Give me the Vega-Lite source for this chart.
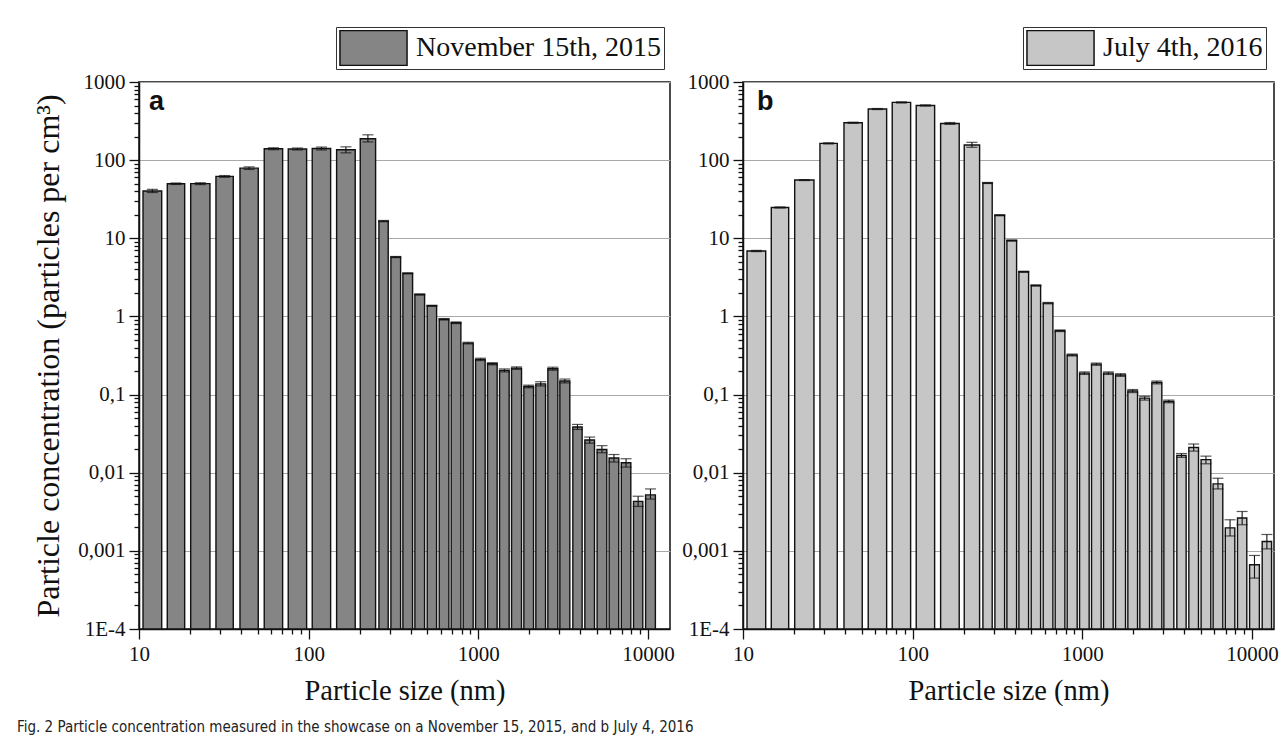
{
  "$schema": "https://vega.github.io/schema/vega-lite/v6.json",
  "padding": {"left": 16, "top": 25, "right": 8, "bottom": 10},
  "background": "white",
  "datasets": {
    "nov": [
      {"lo": 10.56, "hi": 13.61, "mid": 11.99, "v": 40.3, "elo": 38.5, "ehi": 42.3},
      {"lo": 14.68, "hi": 18.59, "mid": 16.52, "v": 49.9, "elo": 48.8, "ehi": 51.0},
      {"lo": 20.17, "hi": 26.2, "mid": 22.99, "v": 50.0, "elo": 48.6, "ehi": 51.4},
      {"lo": 28.42, "hi": 35.95, "mid": 31.96, "v": 61.9, "elo": 60.3, "ehi": 63.5},
      {"lo": 39.38, "hi": 50.47, "mid": 44.58, "v": 79.0, "elo": 76.0, "ehi": 82.0},
      {"lo": 54.74, "hi": 70.27, "mid": 62.02, "v": 140, "elo": 136, "ehi": 144},
      {"lo": 75.82, "hi": 97.32, "mid": 85.9, "v": 139, "elo": 135, "ehi": 143},
      {"lo": 105.0, "hi": 134.8, "mid": 119.0, "v": 141, "elo": 135, "ehi": 147},
      {"lo": 146.2, "hi": 188.2, "mid": 165.9, "v": 136, "elo": 124, "ehi": 148},
      {"lo": 201.5, "hi": 248.2, "mid": 223.6, "v": 188, "elo": 171, "ehi": 211},
      {"lo": 259.6, "hi": 294.5, "mid": 276.5, "v": 16.6, "elo": 16.3, "ehi": 16.9},
      {"lo": 305.5, "hi": 348.5, "mid": 326.3, "v": 5.75, "elo": 5.65, "ehi": 5.85},
      {"lo": 359.5, "hi": 410.1, "mid": 384.0, "v": 3.56, "elo": 3.5, "ehi": 3.62},
      {"lo": 423.1, "hi": 482.6, "mid": 451.9, "v": 1.91, "elo": 1.88, "ehi": 1.94},
      {"lo": 500.0, "hi": 568.1, "mid": 533.0, "v": 1.37, "elo": 1.35, "ehi": 1.39},
      {"lo": 588.5, "hi": 671.2, "mid": 628.5, "v": 0.92, "elo": 0.9, "ehi": 0.94},
      {"lo": 692.4, "hi": 789.8, "mid": 739.5, "v": 0.83, "elo": 0.81, "ehi": 0.85},
      {"lo": 814.7, "hi": 933.3, "mid": 872.0, "v": 0.456, "elo": 0.445, "ehi": 0.467},
      {"lo": 964, "hi": 1098, "mid": 1029, "v": 0.282, "elo": 0.272, "ehi": 0.292},
      {"lo": 1134, "hi": 1292, "mid": 1210, "v": 0.248, "elo": 0.24, "ehi": 0.256},
      {"lo": 1335, "hi": 1521, "mid": 1425, "v": 0.204, "elo": 0.195, "ehi": 0.213},
      {"lo": 1571, "hi": 1799, "mid": 1681, "v": 0.218, "elo": 0.21, "ehi": 0.226},
      {"lo": 1857, "hi": 2118, "mid": 1983, "v": 0.127, "elo": 0.122, "ehi": 0.132},
      {"lo": 2185, "hi": 2493, "mid": 2334, "v": 0.137, "elo": 0.129, "ehi": 0.146},
      {"lo": 2572, "hi": 2945, "mid": 2752, "v": 0.214, "elo": 0.205, "ehi": 0.224},
      {"lo": 3027, "hi": 3466, "mid": 3239, "v": 0.149, "elo": 0.141, "ehi": 0.158},
      {"lo": 3610, "hi": 4096, "mid": 3845, "v": 0.0384, "elo": 0.0358, "ehi": 0.0415},
      {"lo": 4249, "hi": 4844, "mid": 4537, "v": 0.0262, "elo": 0.0239, "ehi": 0.0286},
      {"lo": 5018, "hi": 5725, "mid": 5360, "v": 0.0198, "elo": 0.018, "ehi": 0.0222},
      {"lo": 5907, "hi": 6736, "mid": 6308, "v": 0.0154, "elo": 0.0137, "ehi": 0.0171},
      {"lo": 6969, "hi": 7930, "mid": 7434, "v": 0.0134, "elo": 0.0118, "ehi": 0.0151},
      {"lo": 8226, "hi": 9331, "mid": 8761, "v": 0.0043, "elo": 0.0037, "ehi": 0.005},
      {"lo": 9692, "hi": 11070, "mid": 10358, "v": 0.0052, "elo": 0.0046, "ehi": 0.0062}
    ],
    "jul": [
      {"lo": 10.56, "hi": 13.61, "mid": 11.99, "v": 6.87, "elo": 6.75, "ehi": 7.0},
      {"lo": 14.68, "hi": 18.59, "mid": 16.52, "v": 24.8, "elo": 24.4, "ehi": 25.2},
      {"lo": 20.17, "hi": 26.2, "mid": 22.99, "v": 55.6, "elo": 54.8, "ehi": 56.4},
      {"lo": 28.42, "hi": 35.95, "mid": 31.96, "v": 164, "elo": 161, "ehi": 167},
      {"lo": 39.38, "hi": 50.47, "mid": 44.58, "v": 301, "elo": 296, "ehi": 306},
      {"lo": 54.74, "hi": 70.27, "mid": 62.02, "v": 451, "elo": 444, "ehi": 458},
      {"lo": 75.82, "hi": 97.32, "mid": 85.9, "v": 548, "elo": 538, "ehi": 558},
      {"lo": 105.0, "hi": 134.8, "mid": 119.0, "v": 501, "elo": 492, "ehi": 510},
      {"lo": 146.2, "hi": 188.2, "mid": 165.9, "v": 295, "elo": 287, "ehi": 303},
      {"lo": 201.5, "hi": 248.2, "mid": 223.6, "v": 156, "elo": 146, "ehi": 169},
      {"lo": 259.6, "hi": 294.5, "mid": 276.5, "v": 51.0, "elo": 50.2, "ehi": 51.8},
      {"lo": 305.5, "hi": 348.5, "mid": 326.3, "v": 19.7, "elo": 19.4, "ehi": 20.0},
      {"lo": 359.5, "hi": 410.1, "mid": 384.0, "v": 9.35, "elo": 9.2, "ehi": 9.5},
      {"lo": 423.1, "hi": 482.6, "mid": 451.9, "v": 3.73, "elo": 3.67, "ehi": 3.79},
      {"lo": 500.0, "hi": 568.1, "mid": 533.0, "v": 2.49, "elo": 2.45, "ehi": 2.53},
      {"lo": 588.5, "hi": 671.2, "mid": 628.5, "v": 1.48, "elo": 1.45, "ehi": 1.51},
      {"lo": 692.4, "hi": 789.8, "mid": 739.5, "v": 0.656, "elo": 0.64, "ehi": 0.672},
      {"lo": 814.7, "hi": 933.3, "mid": 872.0, "v": 0.321, "elo": 0.312, "ehi": 0.33},
      {"lo": 964, "hi": 1098, "mid": 1029, "v": 0.188, "elo": 0.181, "ehi": 0.195},
      {"lo": 1134, "hi": 1292, "mid": 1210, "v": 0.245, "elo": 0.237, "ehi": 0.253},
      {"lo": 1335, "hi": 1521, "mid": 1425, "v": 0.188, "elo": 0.181, "ehi": 0.195},
      {"lo": 1571, "hi": 1799, "mid": 1681, "v": 0.178, "elo": 0.171, "ehi": 0.185},
      {"lo": 1857, "hi": 2118, "mid": 1983, "v": 0.111, "elo": 0.106, "ehi": 0.116},
      {"lo": 2185, "hi": 2493, "mid": 2334, "v": 0.09, "elo": 0.085, "ehi": 0.095},
      {"lo": 2572, "hi": 2945, "mid": 2752, "v": 0.143, "elo": 0.137, "ehi": 0.149},
      {"lo": 3027, "hi": 3466, "mid": 3239, "v": 0.0817, "elo": 0.0785, "ehi": 0.085},
      {"lo": 3610, "hi": 4096, "mid": 3845, "v": 0.0166, "elo": 0.0157, "ehi": 0.0176},
      {"lo": 4249, "hi": 4844, "mid": 4537, "v": 0.021, "elo": 0.0189, "ehi": 0.0233},
      {"lo": 5018, "hi": 5725, "mid": 5360, "v": 0.0147, "elo": 0.013, "ehi": 0.0163},
      {"lo": 5907, "hi": 6736, "mid": 6308, "v": 0.0072, "elo": 0.0062, "ehi": 0.0085},
      {"lo": 6969, "hi": 7930, "mid": 7434, "v": 0.00197, "elo": 0.00155, "ehi": 0.0025},
      {"lo": 8226, "hi": 9331, "mid": 8761, "v": 0.00263, "elo": 0.00216, "ehi": 0.00319},
      {"lo": 9692, "hi": 11070, "mid": 10358, "v": 0.000664, "elo": 0.000448, "ehi": 0.000873},
      {"lo": 11500, "hi": 13060, "mid": 12255, "v": 0.00132, "elo": 0.00106, "ehi": 0.00162}
    ]
  },
  "title": {
    "text": "Fig. 2  Particle concentration measured in the showcase on a November 15, 2015, and b July 4, 2016",
    "orient": "bottom",
    "anchor": "start",
    "font": "Liberation Sans Narrow, DejaVu Sans Condensed, sans-serif",
    "fontSize": 15,
    "fontWeight": "normal",
    "color": "#222",
    "offset": 15,
    "dx": -15
  },
  "config": {
    "view": {"stroke": "#111", "strokeWidth": 1.5},
    "axis": {
      "domainColor": "#111",
      "domainWidth": 1.5,
      "tickColor": "#111",
      "tickWidth": 1.3,
      "labelFont": "Liberation Serif",
      "labelFontSize": 21,
      "labelColor": "#111",
      "titleFont": "Liberation Serif",
      "titleFontSize": 28.5,
      "titleFontWeight": "normal",
      "titleColor": "#111",
      "labelFlush": false,
      "labelOverlap": false,
      "labelPadding": 4
    },
    "legend": {
      "labelLimit": 600
    }
  },
  "spacing": 6,
  "resolve": {"scale": {"color": "independent"}, "legend": {"color": "independent"}},
  "hconcat": [
    {
      "width": 531,
      "height": 547,
      "layer": [
        {
          "data": {"name": "nov"},
          "mark": {"type": "bar", "stroke": "#111", "strokeWidth": 1.4},
          "encoding": {
            "x": {
              "field": "lo", "type": "quantitative",
              "scale": {"type": "log", "domain": [10, 13500], "nice": false},
              "axis": {
                "title": "Particle size (nm)",
                "titlePadding": 12,
                "grid": false,
                "values": [10,20,30,40,50,60,70,80,90,100,200,300,400,500,600,700,800,900,1000,2000,3000,4000,5000,6000,7000,8000,9000,10000],
                "labelExpr": "indexof([10,100,1000,10000], datum.value) >= 0 ? toString(datum.value) : ''",
                "tickSize": {"condition": {"test": "indexof([10,100,1000,10000], datum.value) >= 0", "value": 10}, "value": 5}
              }
            },
            "x2": {"field": "hi"},
            "y": {
              "field": "v", "type": "quantitative",
              "scale": {"type": "log", "domain": [0.0001, 1000], "nice": false},
              "axis": {
                "title": "Particle concentration (particles per cm³)",
                "titleFontSize": 32,
                "titlePadding": 12,
                "grid": true,
                "gridColor": "#a8a8a8",
                "gridWidth": 1,
                "gridOpacity": {"condition": {"test": "indexof([0.0001,0.001,0.01,0.1,1,10,100,1000], datum.value) >= 0", "value": 1}, "value": 0},
                "values": [0.0001,0.0002,0.0003,0.0004,0.0005,0.0006,0.0007,0.0008,0.0009,0.001,0.002,0.003,0.004,0.005,0.006,0.007,0.008,0.009,0.01,0.02,0.03,0.04,0.05,0.06,0.07,0.08,0.09,0.1,0.2,0.3,0.4,0.5,0.6,0.7,0.8,0.9,1,2,3,4,5,6,7,8,9,10,20,30,40,50,60,70,80,90,100,200,300,400,500,600,700,800,900,1000],
                "labelExpr": "datum.value == 0.0001 ? '1E-4' : (indexof([0.001,0.01,0.1,1,10,100,1000], datum.value) >= 0 ? replace(toString(datum.value), '.', ',') : '')",
                "tickSize": {"condition": {"test": "indexof([0.0001,0.001,0.01,0.1,1,10,100,1000], datum.value) >= 0", "value": 10}, "value": 5}
              }
            },
            "y2": {"datum": 0.0001},
            "color": {
              "datum": "November 15th, 2015",
              "scale": {"range": ["#858585"]},
              "legend": {
                "orient": "none", "legendX": 197, "legendY": -55,
                "title": null,
                "strokeColor": "#333", "fillColor": "white", "padding": 3,
                "clipHeight": 36,
                "symbolType": "M-1,-0.52H1V0.52H-1Z", "symbolSize": 4500,
                "symbolStrokeColor": "#111", "symbolStrokeWidth": 1.5,
                "labelFont": "Liberation Serif", "labelFontSize": 28, "labelColor": "#111",
                "labelOffset": 8, "labelLimit": 600
              }
            }
          }
        },
        {
          "data": {"name": "nov"},
          "mark": {"type": "rule", "color": "#111", "strokeWidth": 1.1},
          "encoding": {
            "x": {"field": "mid", "type": "quantitative"},
            "y": {"field": "elo", "type": "quantitative"},
            "y2": {"field": "ehi"}
          }
        },
        {
          "data": {"name": "nov"},
          "mark": {"type": "tick", "orient": "horizontal", "size": 11, "thickness": 1.2, "color": "#111"},
          "encoding": {
            "x": {"field": "mid", "type": "quantitative"},
            "y": {"field": "elo", "type": "quantitative"}
          }
        },
        {
          "data": {"name": "nov"},
          "mark": {"type": "tick", "orient": "horizontal", "size": 11, "thickness": 1.2, "color": "#111"},
          "encoding": {
            "x": {"field": "mid", "type": "quantitative"},
            "y": {"field": "ehi", "type": "quantitative"}
          }
        },
        {
          "data": {"values": [{}]},
          "mark": {"type": "text", "text": "a", "font": "Liberation Sans", "fontWeight": "bold", "fontSize": 27, "align": "left", "baseline": "middle", "color": "#111"},
          "encoding": {
            "x": {"datum": 11.45, "type": "quantitative"},
            "y": {"datum": 560, "type": "quantitative"}
          }
        }
      ]
    },
    {
      "width": 531,
      "height": 547,
      "layer": [
        {
          "data": {"name": "jul"},
          "mark": {"type": "bar", "stroke": "#111", "strokeWidth": 1.4},
          "encoding": {
            "x": {
              "field": "lo", "type": "quantitative",
              "scale": {"type": "log", "domain": [10, 13500], "nice": false},
              "axis": {
                "title": "Particle size (nm)",
                "titlePadding": 12,
                "grid": false,
                "values": [10,20,30,40,50,60,70,80,90,100,200,300,400,500,600,700,800,900,1000,2000,3000,4000,5000,6000,7000,8000,9000,10000],
                "labelExpr": "indexof([10,100,1000,10000], datum.value) >= 0 ? toString(datum.value) : ''",
                "tickSize": {"condition": {"test": "indexof([10,100,1000,10000], datum.value) >= 0", "value": 10}, "value": 5}
              }
            },
            "x2": {"field": "hi"},
            "y": {
              "field": "v", "type": "quantitative",
              "scale": {"type": "log", "domain": [0.0001, 1000], "nice": false},
              "axis": {
                "title": null,
                "grid": true,
                "gridColor": "#a8a8a8",
                "gridWidth": 1,
                "gridOpacity": {"condition": {"test": "indexof([0.0001,0.001,0.01,0.1,1,10,100,1000], datum.value) >= 0", "value": 1}, "value": 0},
                "values": [0.0001,0.0002,0.0003,0.0004,0.0005,0.0006,0.0007,0.0008,0.0009,0.001,0.002,0.003,0.004,0.005,0.006,0.007,0.008,0.009,0.01,0.02,0.03,0.04,0.05,0.06,0.07,0.08,0.09,0.1,0.2,0.3,0.4,0.5,0.6,0.7,0.8,0.9,1,2,3,4,5,6,7,8,9,10,20,30,40,50,60,70,80,90,100,200,300,400,500,600,700,800,900,1000],
                "labelExpr": "datum.value == 0.0001 ? '1E-4' : (indexof([0.001,0.01,0.1,1,10,100,1000], datum.value) >= 0 ? replace(toString(datum.value), '.', ',') : '')",
                "tickSize": {"condition": {"test": "indexof([0.0001,0.001,0.01,0.1,1,10,100,1000], datum.value) >= 0", "value": 10}, "value": 5}
              }
            },
            "y2": {"datum": 0.0001},
            "color": {
              "datum": "July 4th, 2016",
              "scale": {"range": ["#c6c6c6"]},
              "legend": {
                "orient": "none", "legendX": 280, "legendY": -55,
                "title": null,
                "strokeColor": "#333", "fillColor": "white", "padding": 3,
                "clipHeight": 36,
                "symbolType": "M-1,-0.52H1V0.52H-1Z", "symbolSize": 4500,
                "symbolStrokeColor": "#111", "symbolStrokeWidth": 1.5,
                "labelFont": "Liberation Serif", "labelFontSize": 28, "labelColor": "#111",
                "labelOffset": 8, "labelLimit": 600
              }
            }
          }
        },
        {
          "data": {"name": "jul"},
          "mark": {"type": "rule", "color": "#111", "strokeWidth": 1.1},
          "encoding": {
            "x": {"field": "mid", "type": "quantitative"},
            "y": {"field": "elo", "type": "quantitative"},
            "y2": {"field": "ehi"}
          }
        },
        {
          "data": {"name": "jul"},
          "mark": {"type": "tick", "orient": "horizontal", "size": 11, "thickness": 1.2, "color": "#111"},
          "encoding": {
            "x": {"field": "mid", "type": "quantitative"},
            "y": {"field": "elo", "type": "quantitative"}
          }
        },
        {
          "data": {"name": "jul"},
          "mark": {"type": "tick", "orient": "horizontal", "size": 11, "thickness": 1.2, "color": "#111"},
          "encoding": {
            "x": {"field": "mid", "type": "quantitative"},
            "y": {"field": "ehi", "type": "quantitative"}
          }
        },
        {
          "data": {"values": [{}]},
          "mark": {"type": "text", "text": "b", "font": "Liberation Sans", "fontWeight": "bold", "fontSize": 27, "align": "left", "baseline": "middle", "color": "#111"},
          "encoding": {
            "x": {"datum": 12.1, "type": "quantitative"},
            "y": {"datum": 560, "type": "quantitative"}
          }
        }
      ]
    }
  ]
}
